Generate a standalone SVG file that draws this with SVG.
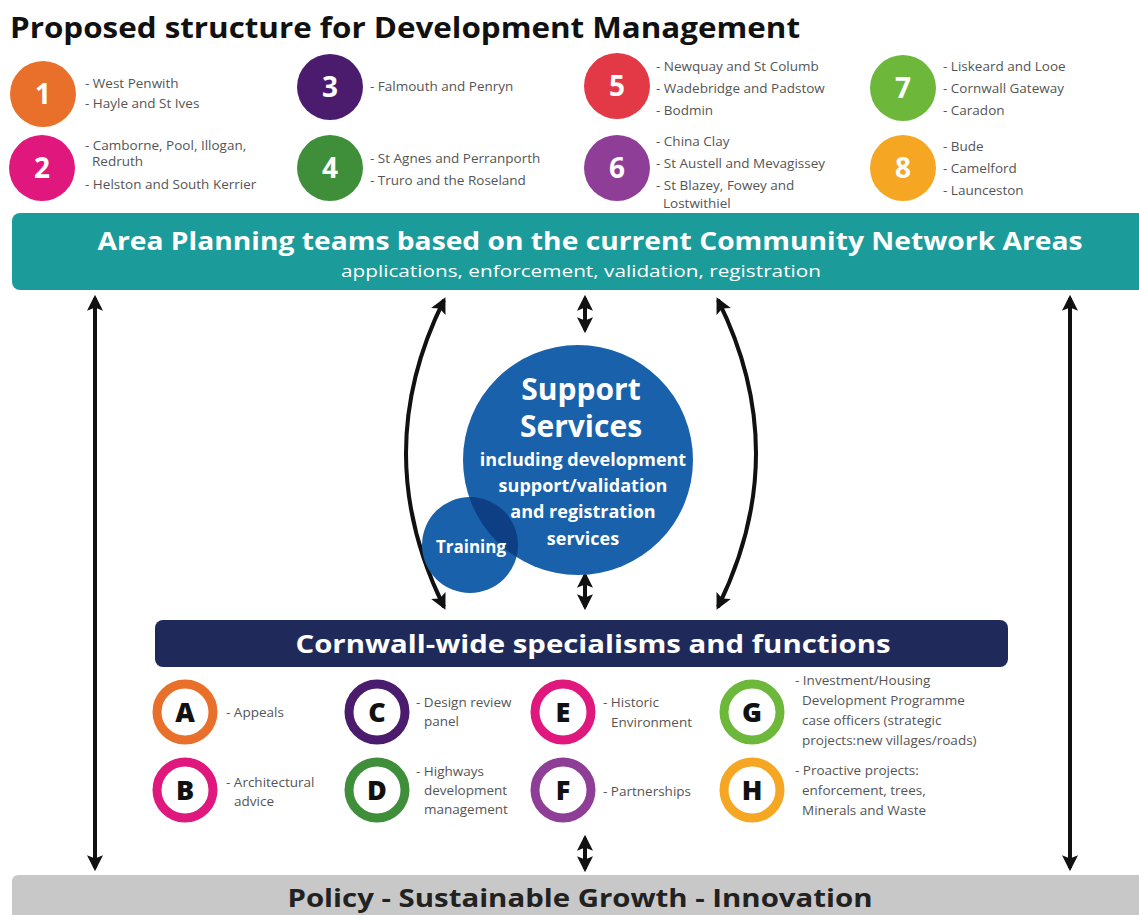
<svg xmlns="http://www.w3.org/2000/svg" width="1139" height="915" viewBox="0 0 1139 915">
<defs>
<style>
.t{font-family:"Open Sans","Liberation Sans",sans-serif}
.lab{font-family:"Open Sans","Liberation Sans",sans-serif;font-size:13.5px;fill:#555}
.num{font-family:"Open Sans","Liberation Sans",sans-serif;font-size:28px;font-weight:bold;fill:#fff;text-anchor:middle}
.let{font-family:"Open Sans","Liberation Sans",sans-serif;font-size:27px;font-weight:800;fill:#111;text-anchor:middle}
.ring{fill:#fff;stroke-width:9}
.conn{fill:none;stroke:#111;stroke-width:4}
.ss{font-family:"Open Sans","Liberation Sans",sans-serif;fill:#fff;text-anchor:middle;font-weight:bold}
</style>
<marker id="ah" viewBox="0 0 10 10" refX="8" refY="5" markerWidth="4" markerHeight="4" orient="auto-start-reverse" markerUnits="strokeWidth">
<path d="M0,0 L10,5 L0,10 L2,5 z" fill="#111"/>
</marker>
<clipPath id="bigc"><circle cx="578" cy="460" r="115"/></clipPath>
</defs>
<rect width="1139" height="915" fill="#fff"/>
<text class="t" x="10" y="38" font-size="29" font-weight="bold" fill="#111" textLength="790" lengthAdjust="spacingAndGlyphs">Proposed structure for Development Management</text>

<g id="area1"><circle cx="43" cy="94" r="33" fill="#E8702A"/><text class="num" x="43" y="104">1</text>
<text class="lab" x="85" y="88">- West Penwith</text><text class="lab" x="85" y="108">- Hayle and St Ives</text></g>
<g id="area2"><circle cx="42" cy="168" r="33" fill="#E0177D"/><text class="num" x="42" y="178">2</text>
<text class="lab" x="85" y="150">- Camborne, Pool, Illogan,</text><text class="lab" x="92" y="166">Redruth</text><text class="lab" x="85" y="189">- Helston and South Kerrier</text></g>
<g id="area3"><circle cx="330" cy="87" r="33" fill="#4B1C6E"/><text class="num" x="330" y="97">3</text>
<text class="lab" x="370" y="91">- Falmouth and Penryn</text></g>
<g id="area4"><circle cx="330" cy="168" r="33" fill="#3F8E3A"/><text class="num" x="330" y="178">4</text>
<text class="lab" x="370" y="163">- St Agnes and Perranporth</text><text class="lab" x="370" y="185">- Truro and the Roseland</text></g>
<g id="area5"><circle cx="617" cy="86" r="33" fill="#E33845"/><text class="num" x="617" y="96">5</text>
<text class="lab" x="656" y="71">- Newquay and St Columb</text><text class="lab" x="656" y="93">- Wadebridge and Padstow</text><text class="lab" x="656" y="115">- Bodmin</text></g>
<g id="area6"><circle cx="617" cy="168" r="33" fill="#8E3E96"/><text class="num" x="617" y="178">6</text>
<text class="lab" x="656" y="146">- China Clay</text><text class="lab" x="656" y="168">- St Austell and Mevagissey</text><text class="lab" x="656" y="190">- St Blazey, Fowey and</text><text class="lab" x="663" y="208">Lostwithiel</text></g>
<g id="area7"><circle cx="903" cy="88" r="33" fill="#6DB73A"/><text class="num" x="903" y="98">7</text>
<text class="lab" x="943" y="71">- Liskeard and Looe</text><text class="lab" x="943" y="93">- Cornwall Gateway</text><text class="lab" x="943" y="115">- Caradon</text></g>
<g id="area8"><circle cx="903" cy="168" r="33" fill="#F5A623"/><text class="num" x="903" y="178">8</text>
<text class="lab" x="943" y="151">- Bude</text><text class="lab" x="943" y="173">- Camelford</text><text class="lab" x="943" y="195">- Launceston</text></g>

<g id="areaband"><rect x="12" y="213" width="1140" height="77" rx="8" fill="#1C9B9B"/>
<text class="t" x="590" y="250" font-size="25" font-weight="bold" fill="#fff" text-anchor="middle" textLength="985" lengthAdjust="spacingAndGlyphs">Area Planning teams based on the current Community Network Areas</text>
<text class="t" x="581" y="277" font-size="17" fill="#fff" text-anchor="middle" textLength="480" lengthAdjust="spacingAndGlyphs">applications, enforcement, validation, registration</text></g>

<g id="connectors">
<line class="conn" x1="95" y1="298" x2="95" y2="868" marker-start="url(#ah)" marker-end="url(#ah)"/>
<line class="conn" x1="1070" y1="298" x2="1070" y2="868" marker-start="url(#ah)" marker-end="url(#ah)"/>
<line class="conn" x1="585" y1="298" x2="585" y2="330" marker-start="url(#ah)" marker-end="url(#ah)"/>
<line class="conn" x1="585" y1="575" x2="585" y2="607" marker-start="url(#ah)" marker-end="url(#ah)"/>
<line class="conn" x1="585" y1="838" x2="585" y2="869" marker-start="url(#ah)" marker-end="url(#ah)"/>
<path class="conn" d="M444 300 Q368 453 444 607" marker-start="url(#ah)" marker-end="url(#ah)"/>
<path class="conn" d="M718 300 Q794 453 718 607" marker-start="url(#ah)" marker-end="url(#ah)"/>
</g>

<g id="support"><circle cx="578" cy="460" r="115" fill="#1961AA"/>
<text class="ss" x="581" y="400" font-size="30">Support</text>
<text class="ss" x="581" y="437" font-size="30">Services</text>
<text class="ss" x="583" y="466" font-size="18" font-weight="600">including development</text>
<text class="ss" x="583" y="492" font-size="18" font-weight="600">support/validation</text>
<text class="ss" x="583" y="518" font-size="18" font-weight="600">and registration</text>
<text class="ss" x="583" y="545" font-size="18" font-weight="600">services</text></g>
<g id="training"><circle cx="470" cy="545" r="48" fill="#1961AA"/>
<circle cx="470" cy="545" r="48" fill="#0E3F85" clip-path="url(#bigc)"/>
<text class="ss" x="471" y="553" font-size="17" font-weight="normal">Training</text></g>

<g id="specband"><rect x="155" y="620" width="853" height="47" rx="8" fill="#1F2A5A"/>
<text class="t" x="593" y="653" font-size="25" font-weight="bold" fill="#fff" text-anchor="middle" textLength="595" lengthAdjust="spacingAndGlyphs">Cornwall-wide specialisms and functions</text></g>

<g id="specA"><circle class="ring" cx="185" cy="712" r="28" stroke="#E8702A"/><text class="let" x="185" y="722">A</text>
<text class="lab" x="226" y="717">- Appeals</text></g>
<g id="specB"><circle class="ring" cx="185" cy="790" r="28" stroke="#E0177D"/><text class="let" x="185" y="800">B</text>
<text class="lab" x="226" y="787">- Architectural</text><text class="lab" x="234" y="806">advice</text></g>
<g id="specC"><circle class="ring" cx="377" cy="712" r="28" stroke="#4B1C6E"/><text class="let" x="377" y="722">C</text>
<text class="lab" x="416" y="707">- Design review</text><text class="lab" x="424" y="726">panel</text></g>
<g id="specD"><circle class="ring" cx="377" cy="790" r="28" stroke="#3F8E3A"/><text class="let" x="377" y="800">D</text>
<text class="lab" x="416" y="776">- Highways</text><text class="lab" x="424" y="795">development</text><text class="lab" x="424" y="814">management</text></g>
<g id="specE"><circle class="ring" cx="563" cy="712" r="28" stroke="#E0177D"/><text class="let" x="563" y="722">E</text>
<text class="lab" x="603" y="707">- Historic</text><text class="lab" x="611" y="727">Environment</text></g>
<g id="specF"><circle class="ring" cx="563" cy="790" r="28" stroke="#8E3E96"/><text class="let" x="563" y="800">F</text>
<text class="lab" x="603" y="796">- Partnerships</text></g>
<g id="specG"><circle class="ring" cx="752" cy="712" r="28" stroke="#6DB73A"/><text class="let" x="752" y="722">G</text>
<text class="lab" x="795" y="685">- Investment/Housing</text><text class="lab" x="802" y="705">Development Programme</text><text class="lab" x="802" y="725">case officers (strategic</text><text class="lab" x="802" y="745">projects:new villages/roads)</text></g>
<g id="specH"><circle class="ring" cx="752" cy="790" r="28" stroke="#F5A623"/><text class="let" x="752" y="800">H</text>
<text class="lab" x="795" y="775">- Proactive projects:</text><text class="lab" x="802" y="795">enforcement, trees,</text><text class="lab" x="802" y="815">Minerals and Waste</text></g>

<g id="policy"><rect x="12" y="875" width="1140" height="60" rx="6" fill="#C8C8C8"/>
<text class="t" x="580" y="907" font-size="25" font-weight="bold" fill="#222" text-anchor="middle" textLength="585" lengthAdjust="spacingAndGlyphs">Policy - Sustainable Growth - Innovation</text></g>
</svg>
